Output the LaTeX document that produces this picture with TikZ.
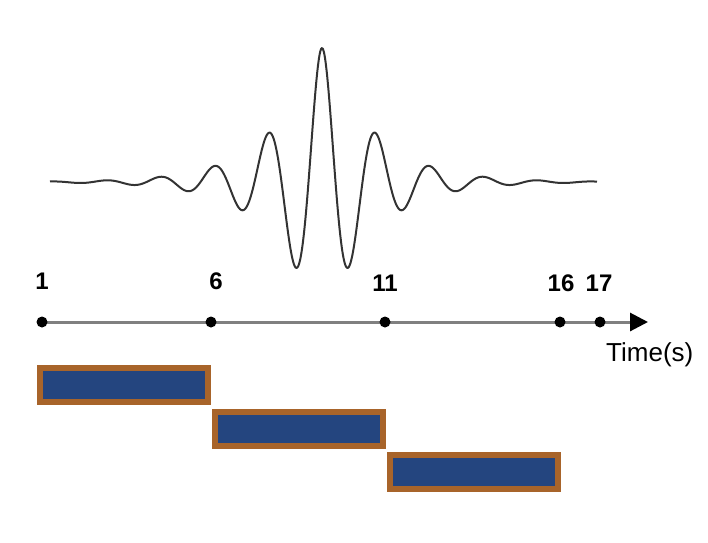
\documentclass[tikz,border=0pt]{standalone}
\usepackage{fontspec}
\setmainfont{Liberation Sans}
\usetikzlibrary{arrows.meta}
\definecolor{boxbrown}{HTML}{A8642A}
\definecolor{boxblue}{HTML}{24457F}
\definecolor{wavegray}{HTML}{333333}
\definecolor{axisgray}{HTML}{808080}
\pgfdeclarelayer{background}
\pgfsetlayers{background,main}
\begin{document}
\begin{tikzpicture}[x=1pt,y=-1pt,
  dotnode/.style={circle,fill=black,inner sep=0pt,minimum size=11pt},
  ticklabel/.style={font=\fontsize{24}{26}\selectfont\bfseries,inner sep=0pt,anchor=base},
  timebox/.style={draw=boxbrown,line width=6pt,fill=boxblue,minimum width=168pt,minimum height=34pt,inner sep=0pt},
  wave/.style={draw=wavegray,line width=2pt,line join=round},
  axisline/.style={draw=axisgray,line width=3pt,-{Triangle[length=18pt,width=18pt,color=black]}}]
\useasboundingbox (0,0) rectangle (708,542);
% wave
\draw[wave] plot[domain=50:597,samples=600,smooth] (\x,{182-134*exp(-(sqrt(((\x-322)/54)^2+0.01)-0.1)*1.12)*cos(6.66667*(\x-322))});
% axis dots
\node[dotnode] (d1) at (42,322) {};
\node[dotnode] (d6) at (211,322) {};
\node[dotnode] (d11) at (385,322) {};
\node[dotnode] (d16) at (560,322) {};
\node[dotnode] (d17) at (600,322) {};
\coordinate (tip) at (648,322);
\begin{pgfonlayer}{background}
\draw[axisline] (d1.center) -- (tip);
\end{pgfonlayer}
% labels
\node[ticklabel] (l1) at (42,289) {1};
\node[ticklabel] (l6) at (216,289) {6};
\node[ticklabel] (l11) at (385,291) {11};
\node[ticklabel] (l16) at (561,291) {16};
\node[ticklabel] (l17) at (599,291) {17};
\node[font=\fontsize{26}{28}\selectfont,inner sep=0pt,anchor=base west] (time) at (606,361) {Time(s)};
% boxes
\node[timebox] (b1) at (124,384.5) {};
\node[timebox] (b2) at (299,428.5) {};
\node[timebox] (b3) at (474,472) {};
\end{tikzpicture}
\end{document}
